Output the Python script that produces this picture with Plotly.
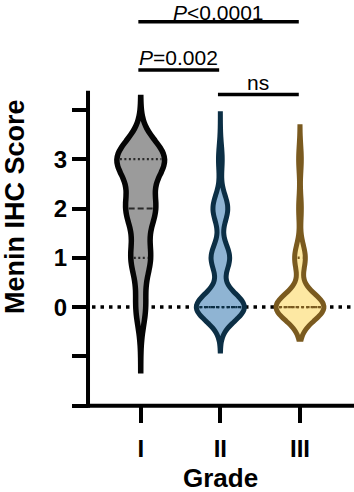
import numpy as np
import plotly.graph_objects as go

# ---------------- data ----------------
grades = ["I", "II", "III"]
grade_I_scores = [0, 0, 1, 1, 1, 1, 2, 2, 2, 2, 2, 2, 3, 3, 3, 3, 3, 3, 3, 3, 3, 3]
grade_II_scores = [0, 0, 0, 0, 0, 0, 0, 0, 0, 0, 0, 0, 0, 1, 1, 1, 1, 1, 2, 2, 2, 2, 3]
grade_III_scores = [0, 0, 0, 0, 0, 0, 0, 0, 0, 0, 0, 0, 0, 0, 0, 0, 0, 0, 1, 1, 1, 1, 2, 3]
all_scores = [grade_I_scores, grade_II_scores, grade_III_scores]

# quartile / median lines as drawn in the picture
q1_values = [1, 0, 0]
median_values = [2, 0, 0]
q3_values = [3, 0, 1]

# smoothing and extent of each violin
bandwidths = [0.38, 0.28, 0.27]
spans = [[-1.29, 4.25], [-0.89, 3.92], [-0.65, 3.66]]

y_ticks = [-2, -1, 0, 1, 2, 3, 4]
y_tick_labels = ["", "", "0", "1", "2", "3", ""]

comparisons = [(0, 2, "<i>P</i>&lt;0.0001"), (0, 1, "<i>P</i>=0.002"), (1, 2, "ns")]
bracket_levels = [5.79, 4.81, 4.31]

# ---------------- styles ----------------
fill_colors = ["#9b9b9b", "#8fb4d3", "#fde8a3"]
line_colors = ["#050505", "#0c2f45", "#7a5a1f"]
line_widths = [5.5, 5, 5]
label_offsets = [-0.06, -0.01, -0.01]
violin_width = 0.6
FONT = "Liberation Sans, Arial, sans-serif"

x_range = [-0.7626, 2.6784]
y_range = [-2.168, 6.229]
x_axis_left = -0.662
y_axis_top = 4.39

fig = go.Figure()

for i, scores in enumerate(all_scores):
    fig.add_trace(go.Violin(
        x=[i] * len(scores), y=scores,
        width=violin_width, bandwidth=bandwidths[i],
        spanmode="manual", span=spans[i],
        scalemode="width", scalegroup="g%d" % i,
        fillcolor=fill_colors[i],
        line=dict(color=line_colors[i], width=line_widths[i]),
        points=False, box_visible=False, meanline_visible=False,
        opacity=1, hoverinfo="skip", name=grades[i],
    ))


def kde(vals, bw, pts):
    vals = np.asarray(vals, float)
    pts = np.atleast_1d(np.asarray(pts, float))
    return np.exp(-0.5 * ((pts[:, None] - vals[None, :]) / bw) ** 2).sum(axis=1)


shapes = []
# dotted zero line
shapes.append(dict(type="line", xref="x", yref="y", x0=x_axis_left + 0.05, x1=x_range[1],
                   y0=0, y1=0, layer="below",
                   line=dict(color="black", width=3.5, dash="3.5px,5px")))

inset = 3.0 / 79.6
for i, scores in enumerate(all_scores):
    grid = np.linspace(spans[i][0], spans[i][1], 800)
    dmax = kde(scores, bandwidths[i], grid).max()
    drawn = set()
    for kind, vals in (("q", q1_values), ("m", median_values), ("q", q3_values)):
        v = vals[i]
        key = (kind, v)
        if key in drawn:
            continue
        drawn.add(key)
        hw = violin_width / 2 * kde(scores, bandwidths[i], v)[0] / dmax - inset
        if hw <= 0:
            continue
        if i == 0:
            color = "#2a2a2a"
            dash = "6px,3px" if kind == "m" else "2px,2.5px"
            w = 2.2
        else:
            color = line_colors[i]
            dash = "3px,2.5px" if kind == "m" else "2px,2.5px"
            w = 2.4
        shapes.append(dict(type="line", xref="x", yref="y", x0=i - hw, x1=i + hw,
                           y0=v, y1=v, line=dict(color=color, width=w, dash=dash)))

# axis lines
shapes.append(dict(type="line", xref="x", yref="y", x0=x_axis_left, x1=x_axis_left,
                   y0=-2.04, y1=y_axis_top, line=dict(color="black", width=4)))
shapes.append(dict(type="line", xref="x", yref="y", x0=x_axis_left, x1=x_range[1],
                   y0=-2, y1=-2, line=dict(color="black", width=4)))

annotations = []
for (a, b, label), lvl, off in zip(comparisons, bracket_levels, label_offsets):
    x0, x1 = a - 0.03, b - 0.015
    shapes.append(dict(type="line", xref="x", yref="y", x0=x0, x1=x1, y0=lvl, y1=lvl,
                       line=dict(color="black", width=3.5)))
    annotations.append(dict(x=(x0 + x1) / 2, y=lvl + off, xref="x", yref="y",
                            text=label, showarrow=False, xanchor="center", yanchor="bottom",
                            borderpad=0,
                            font=dict(family=FONT, size=21, color="black")))

annotations.append(dict(x=-0.237, y=0.5, xref="paper", yref="paper", text="Menin IHC Score",
                        textangle=-90, showarrow=False, xanchor="center", yanchor="middle",
                        font=dict(family=FONT, size=27, color="black", weight="bold")))
annotations.append(dict(x=0.511, y=-0.155, xref="paper", yref="paper", text="Grade",
                        showarrow=False, xanchor="center", yanchor="middle", borderpad=0,
                        font=dict(family=FONT, size=26, color="black", weight="bold")))

fig.update_layout(
    width=354, height=492,
    margin=dict(l=80, r=0, t=0, b=78, pad=0),
    paper_bgcolor="white", plot_bgcolor="white",
    showlegend=False, violinmode="overlay",
    shapes=shapes, annotations=annotations,
    xaxis=dict(range=x_range, anchor="free", position=0.02,
               tickmode="array", tickvals=[0, 1, 2], ticktext=grades,
               ticks="outside", ticklen=16, tickwidth=3.5, tickcolor="black",
               ticklabelstandoff=5,
               showgrid=False, zeroline=False, showline=False,
               tickfont=dict(family=FONT, size=24, color="black", weight="bold")),
    yaxis=dict(range=y_range, anchor="free", position=0.0292,
               tickmode="array", tickvals=y_ticks, ticktext=y_tick_labels,
               ticks="outside", ticklen=16, tickwidth=3.5, tickcolor="black",
               showgrid=False, zeroline=False, showline=False,
               tickfont=dict(family=FONT, size=24, color="black", weight="bold")),
)

fig.write_html(
    "out.html",
    config={"displayModeBar": False},
    post_script="document.body.style.margin='0';document.body.style.padding='0';"
                "document.documentElement.style.overflow='hidden';",
)
